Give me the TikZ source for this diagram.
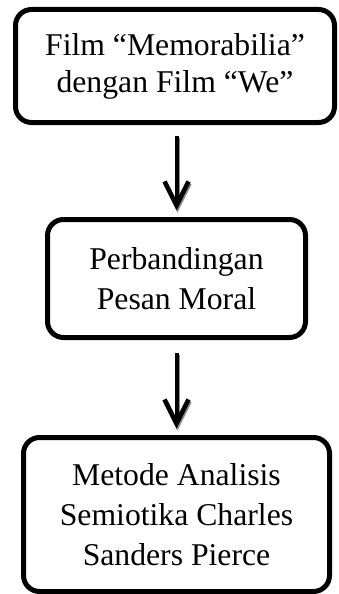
\documentclass[tikz,border=0pt]{standalone}
\usepackage{fontspec}
\setmainfont{Liberation Serif}
\usetikzlibrary{arrows.meta, positioning}

\tikzset{
  boxnode/.style={draw, line width=5pt, rounded corners=16pt, align=center,
    inner sep=0pt, font=\fontsize{31.7}{40}\selectfont},
  flow/.style={line width=4pt, -{Straight Barb[length=24pt, width=24pt, line width=4.5pt]}},
  flowshadow/.style={flow, draw=black!45, transform canvas={xshift=1pt, yshift=-2pt}},
}

\begin{document}
\begin{tikzpicture}[x=1pt, y=-1pt]
    \useasboundingbox (0,0) rectangle (338,594);
    \node[boxnode, minimum width=319pt, minimum height=113pt,
      font=\fontsize{31.7}{37}\selectfont] (film) at (175,66)
      {Film “Memorabilia”\\dengan Film “We”};
    \node[boxnode, minimum width=258pt, minimum height=118pt] (banding) at (176.5,278.5)
      {Perbandingan\\Pesan Moral};
    \node[boxnode, minimum width=306pt, minimum height=154pt] (metode) at (176.5,514.5)
      {Metode Analisis\\Semiotika Charles\\Sanders Pierce};
    % arrows between the boxes
    \draw[flowshadow, shorten <=10.5pt, shorten >=6.5pt] (banding.north |- film.south) -- (banding.north);
    \draw[flow, shorten <=10.5pt, shorten >=6.5pt] (banding.north |- film.south) -- (banding.north);
    \draw[flowshadow, shorten <=12.5pt, shorten >=6.5pt] (banding.south) -- (metode.north);
    \draw[flow, shorten <=12.5pt, shorten >=6.5pt] (banding.south) -- (metode.north);
  \end{tikzpicture}
\end{document}
